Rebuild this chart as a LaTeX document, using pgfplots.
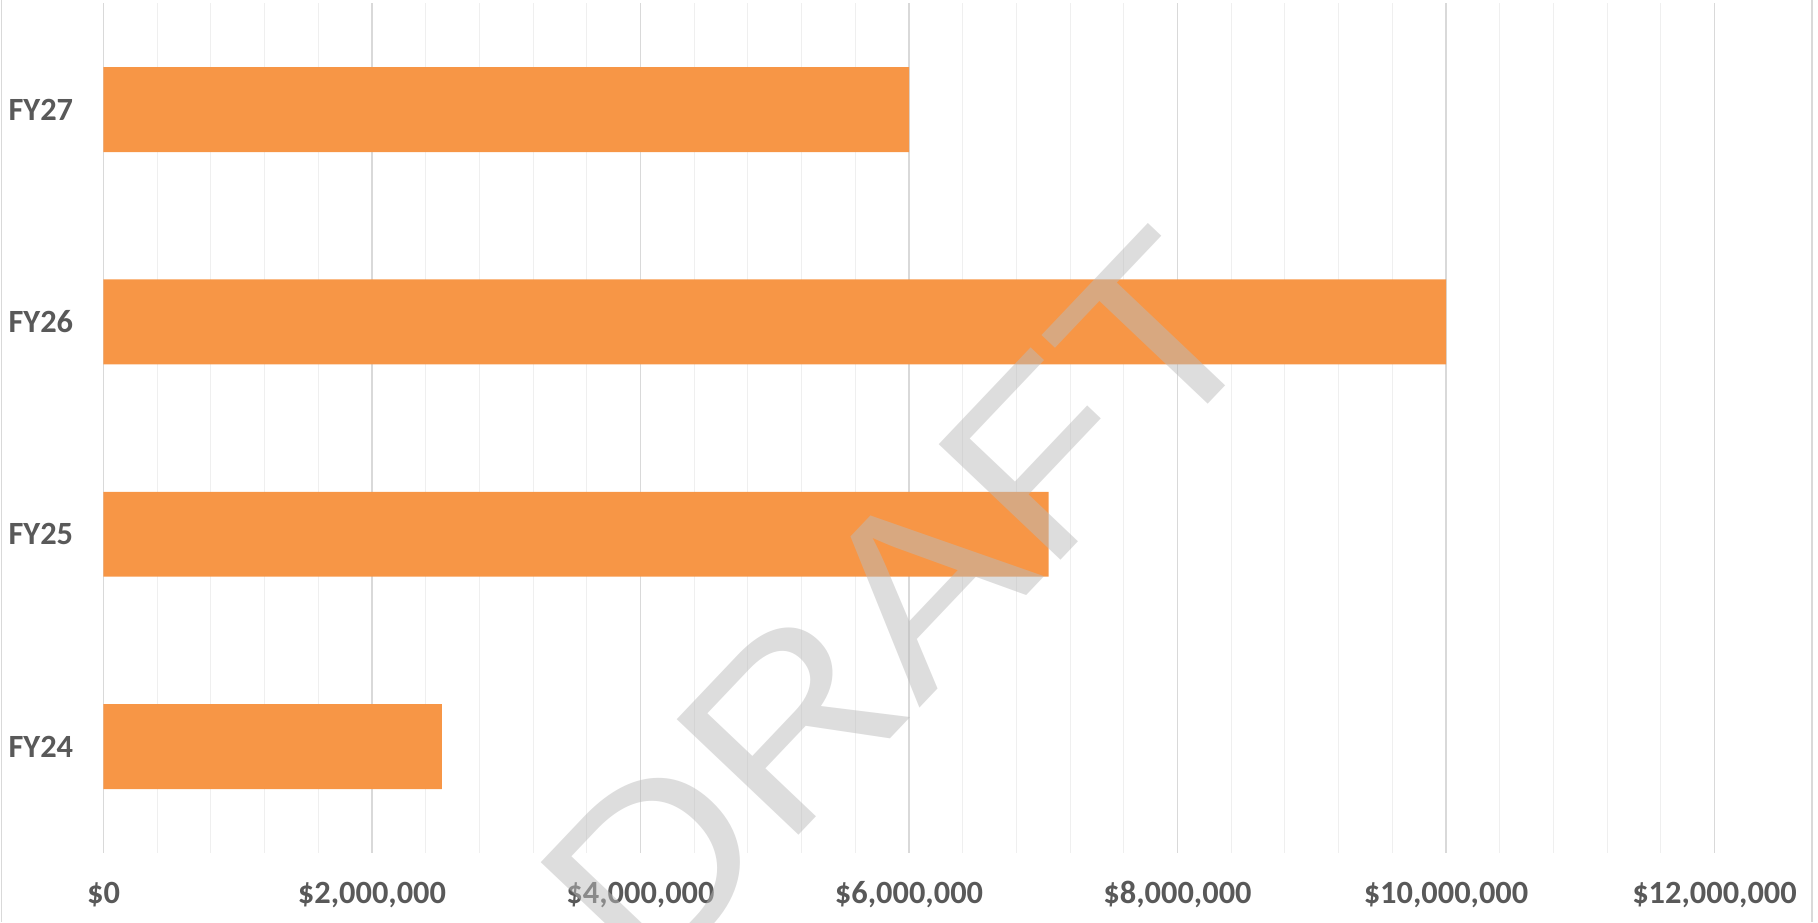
\documentclass[border=0pt]{standalone}
\usepackage{pgfplots}
\pgfplotsset{compat=1.18}
\usepackage{fontspec}
\setmainfont{Carlito}
\newfontfamily\wmfont[FakeStretch=1.12]{Liberation Sans}
\definecolor{barorange}{HTML}{F79646}
\definecolor{lbl}{HTML}{595959}
\definecolor{majgrid}{HTML}{D9D9D9}
\definecolor{mingrid}{HTML}{EFEFEF}
\definecolor{wm}{RGB}{187,187,187}
\begin{document}
\begin{tikzpicture}
\useasboundingbox (-51.75pt,-34.65pt) rectangle (857.25pt,426.35pt);
\begin{axis}[
 at={(0,0)}, anchor=south west,
 scale only axis, width=805.5pt, height=424.6pt,
 xmin=0, xmax=12000000, ymin=-0.5, ymax=3.5,
 xbar, bar width=0.4,
 xtick={0,2000000,4000000,6000000,8000000,10000000,12000000},
 xticklabels={\$0,{\$2,000,000},{\$4,000,000},{\$6,000,000},{\$8,000,000},{\$10,000,000},{\$12,000,000}},
 scaled x ticks=false,
 minor x tick num=4,
 ytick={0,1,2,3}, yticklabels={FY24,FY25,FY26,FY27},
 xmajorgrids, xminorgrids,
 major grid style={majgrid, line width=0.75pt},
 minor grid style={mingrid, line width=0.5pt},
 axis line style={draw=none},
 major tick length=0pt, minor tick length=0pt,
 tick label style={font=\fontsize{16.2}{19}\selectfont\bfseries, text=lbl},
 xticklabel style={anchor=base, inner sep=0pt, yshift=-25.2pt},
 yticklabel style={anchor=east, inner sep=0pt, xshift=-15pt},
]
\addplot[fill=barorange, draw=none, bar shift=0pt] coordinates {(2520000,0) (7040000,1) (10000000,2) (6000000,3)};
\end{axis}
\draw[majgrid, line width=0.75pt] (-50.9pt,-34.65pt) -- (-50.9pt,426.35pt);
\draw[majgrid, line width=0.75pt] (854.25pt,-34.65pt) -- (854.25pt,426.35pt);
\begin{scope}
\clip (-51.75pt,-34.65pt) rectangle (857.25pt,426.35pt);
\node[rotate=46.5, text=wm, opacity=0.5, inner sep=0pt] at (398.5pt,123pt) {\wmfont\fontsize{122}{122}\selectfont DRAFT};
\end{scope}
\end{tikzpicture}
\end{document}
